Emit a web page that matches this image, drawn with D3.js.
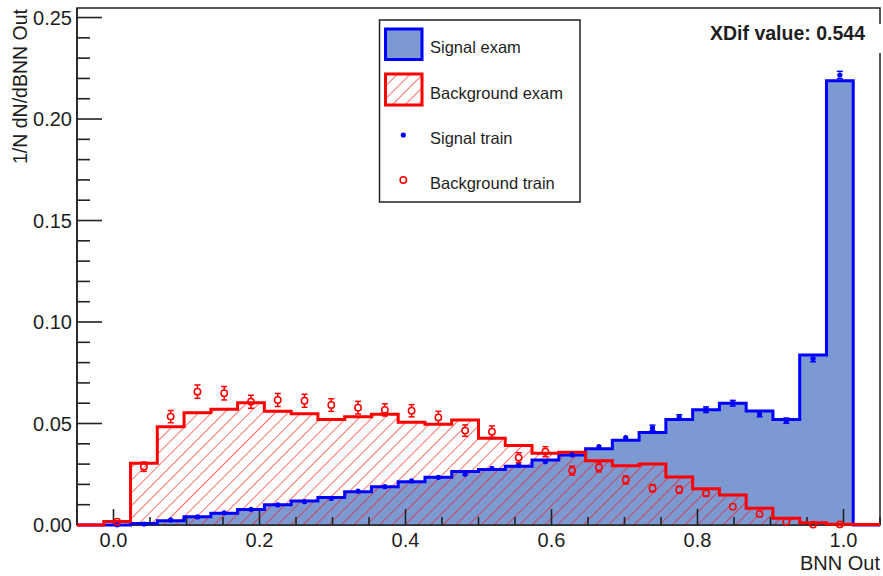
<!DOCTYPE html>
<html>
<head>
<meta charset="utf-8">
<script src="https://cdn.jsdelivr.net/npm/d3@7"></script>
<style>
  body { margin: 0; background: #fff; }
  svg { display: block; font-family: "Liberation Sans", Arial, sans-serif; }
</style>
</head>
<body>
<svg id="chart" width="883" height="576"></svg>
<script>
// histogram definition: 30 bins from -0.05 to 1.05
var binLow = -0.05;
var binHigh = 1.05;
var nBins = 30;

var yTickLabels = ["0.00", "0.05", "0.10", "0.15", "0.20", "0.25"];
var xTickLabels = ["0.0", "0.2", "0.4", "0.6", "0.8", "1.0"];

var signalExam = [0, 0, 0.0007, 0.0021, 0.0041, 0.0058, 0.0076, 0.0100, 0.0118, 0.0135,
    0.0164, 0.0189, 0.0213, 0.0235, 0.0263, 0.0274, 0.0290, 0.0320, 0.0345, 0.0376,
    0.0417, 0.0456, 0.0520, 0.0568, 0.0600, 0.0562, 0.0520, 0.0837, 0.2189, 0];

var backgroundExam = [0, 0.0017, 0.0304, 0.0484, 0.0553, 0.0570, 0.0602, 0.0560, 0.0548, 0.0520,
    0.0533, 0.0545, 0.0506, 0.0496, 0.0517, 0.0427, 0.0392, 0.0353, 0.0358, 0.0317,
    0.0292, 0.0300, 0.0236, 0.0178, 0.0148, 0.0082, 0.0033, 0.0011, 0.0004, 0.0003];

var signalTrain = [null, 0.0001, 0.0005, 0.0025, 0.0040, 0.0060, 0.0077, 0.0099, 0.0115, 0.0131,
    0.0167, 0.0189, 0.0217, 0.0235, 0.0250, 0.0279, 0.0296, 0.0312, 0.0345, 0.0386,
    0.0430, 0.0479, 0.0530, 0.0568, 0.0600, 0.0547, 0.0514, 0.0820, 0.2217, null];
var signalTrainErr = [0, 0.0002, 0.0003, 0.0004, 0.0005, 0.0006, 0.0006, 0.0007, 0.0007, 0.0008,
    0.0008, 0.0009, 0.0009, 0.0010, 0.0010, 0.0010, 0.0011, 0.0011, 0.0011, 0.0012,
    0.0012, 0.0013, 0.0013, 0.0014, 0.0014, 0.0014, 0.0013, 0.0016, 0.0018, 0];

var backgroundTrain = [null, 0.0016, 0.0287, 0.0534, 0.0657, 0.0649, 0.0607, 0.0616, 0.0612, 0.0591,
    0.0578, 0.0567, 0.0563, 0.0530, 0.0465, 0.0460, 0.0332, 0.0361, 0.0268, 0.0284,
    0.0222, 0.0181, 0.0174, 0.0157, 0.0090, 0.0054, 0.0016, 0.0002, 0.0003, null];
var backgroundTrainErr = [0, 0.0008, 0.0023, 0.0030, 0.0033, 0.0033, 0.0032, 0.0032, 0.0032, 0.0031,
    0.0031, 0.0030, 0.0030, 0.0030, 0.0028, 0.0028, 0.0024, 0.0025, 0.0022, 0.0022,
    0.0020, 0.0018, 0.0017, 0.0016, 0.0012, 0.0010, 0.0006, 0.0003, 0.0003, 0];

var legendLabels = ["Signal exam", "Background exam", "Signal train", "Background train"];
var xdifText = "XDif value: 0.544";

var padL = 77, padR = 880, padT = 8, padB = 525;
var textColor = "#1e1e1e";
var fillBlue = "#7d99d1";

var svg = d3.select("#chart");

var x = d3.scaleLinear().domain([binLow, binHigh]).range([padL, padR]);
var y = d3.scaleLinear().domain([0, 0.2547]).range([padB, padT]);

var binWidth = (binHigh - binLow) / nBins;
function edge(i) { return binLow + i * binWidth; }
function center(i) { return binLow + (i + 0.5) * binWidth; }

// hatch pattern for background
var defs = svg.append("defs");
defs.append("pattern")
    .attr("id", "hatch")
    .attr("patternUnits", "userSpaceOnUse")
    .attr("width", 9).attr("height", 9)
    .attr("patternTransform", "rotate(45)")
    .append("line")
    .attr("x1", 0).attr("y1", 0).attr("x2", 0).attr("y2", 9)
    .attr("stroke", "#ff1010").attr("stroke-width", 1.2);

function stepPoints(vals) {
    var pts = vals.map(function (v, i) { return [edge(i), v]; });
    pts.push([edge(nBins), vals[nBins - 1]]);
    return pts;
}

var area = d3.area()
    .curve(d3.curveStepAfter)
    .x(function (d) { return x(d[0]); })
    .y0(y(0))
    .y1(function (d) { return y(d[1]); });

var line = d3.line()
    .curve(d3.curveStepAfter)
    .x(function (d) { return x(d[0]); })
    .y(function (d) { return y(d[1]); });

// frame
svg.append("rect")
    .attr("x", padL).attr("y", padT)
    .attr("width", padR - padL).attr("height", padB - padT)
    .attr("fill", "none").attr("stroke", "#222").attr("stroke-width", 1.5);

// fills
svg.append("path").attr("d", area(stepPoints(signalExam))).attr("fill", fillBlue);
svg.append("path").attr("d", area(stepPoints(backgroundExam))).attr("fill", "url(#hatch)");

// axes
var axisG = svg.append("g").attr("stroke", "#222").attr("stroke-width", 1.6);
axisG.append("line").attr("x1", padL).attr("x2", padL).attr("y1", padT).attr("y2", padB);
axisG.append("line").attr("x1", padL).attr("x2", padR).attr("y1", padB).attr("y2", padB);

var yMinor = d3.range(0, 26).map(function (k) { return k / 100; });
axisG.selectAll(".ytick")
    .data(yMinor)
    .enter().append("line")
    .attr("x1", padL)
    .attr("x2", function (d, i) { return padL + (i % 5 === 0 ? 25 : 13); })
    .attr("y1", function (d) { return y(d); })
    .attr("y2", function (d) { return y(d); });

var xMinor = d3.range(-1, 22).map(function (k) { return k * 0.05; });
axisG.selectAll(".xtick")
    .data(xMinor)
    .enter().append("line")
    .attr("x1", function (d) { return x(d); })
    .attr("x2", function (d) { return x(d); })
    .attr("y1", padB)
    .attr("y2", function (d, i) { return padB - ((i - 1) % 4 === 0 ? 16 : 8); });

svg.selectAll(".ylab")
    .data(yTickLabels)
    .enter().append("text")
    .attr("x", padL - 5)
    .attr("y", function (d) { return y(+d); })
    .attr("dy", "0.36em")
    .attr("text-anchor", "end")
    .attr("font-size", 20)
    .attr("fill", textColor)
    .text(function (d) { return d; });

svg.selectAll(".xlab")
    .data(xTickLabels)
    .enter().append("text")
    .attr("x", function (d) { return x(+d); })
    .attr("y", 547)
    .attr("text-anchor", "middle")
    .attr("font-size", 20)
    .attr("fill", textColor)
    .text(function (d) { return d; });

svg.append("text")
    .attr("x", padR).attr("y", 570)
    .attr("text-anchor", "end")
    .attr("font-size", 20)
    .attr("fill", textColor)
    .text("BNN Out");

svg.append("text")
    .attr("transform", "translate(27,9) rotate(-90)")
    .attr("text-anchor", "end")
    .attr("font-size", 19.5)
    .attr("fill", textColor)
    .text("1/N dN/dBNN Out");

// outlines
svg.append("path").attr("d", line(stepPoints(signalExam)))
    .attr("fill", "none").attr("stroke", "#0000ff").attr("stroke-width", 3);
svg.append("path").attr("d", line(stepPoints(backgroundExam)))
    .attr("fill", "none").attr("stroke", "#ff0000").attr("stroke-width", 3);

// error bars + markers
function drawPoints(vals, errs, color, open, r) {
    var g = svg.append("g");
    vals.forEach(function (v, i) {
        if (v === null) return;
        var cx = x(center(i)), cy = y(v);
        var hi = y(v + errs[i]), lo = y(v - errs[i]);
        if (cy - hi > r) {
            g.append("line").attr("x1", cx).attr("x2", cx).attr("y1", hi).attr("y2", cy - r)
                .attr("stroke", color).attr("stroke-width", 1.5);
            g.append("line").attr("x1", cx).attr("x2", cx).attr("y1", lo).attr("y2", cy + r)
                .attr("stroke", color).attr("stroke-width", 1.5);
            g.append("line").attr("x1", cx - 3).attr("x2", cx + 3).attr("y1", hi).attr("y2", hi)
                .attr("stroke", color).attr("stroke-width", 1.5);
            g.append("line").attr("x1", cx - 3).attr("x2", cx + 3).attr("y1", lo).attr("y2", lo)
                .attr("stroke", color).attr("stroke-width", 1.5);
        }
        g.append("circle").attr("cx", cx).attr("cy", cy).attr("r", r)
            .attr("fill", open ? "none" : color)
            .attr("stroke", color).attr("stroke-width", open ? 1.5 : 0);
    });
}
drawPoints(signalTrain, signalTrainErr, "#0000ff", false, 2.6);
drawPoints(backgroundTrain, backgroundTrainErr, "#ff0000", true, 3.2);

// legend
var lg = svg.append("g");
lg.append("rect").attr("x", 379.5).attr("y", 20).attr("width", 200.5).attr("height", 182)
    .attr("fill", "#fff").attr("stroke", "#222").attr("stroke-width", 1.5);
lg.append("rect").attr("x", 385.5).attr("y", 29).attr("width", 36.5).attr("height", 30.5)
    .attr("fill", fillBlue).attr("stroke", "#0000ff").attr("stroke-width", 3);
lg.append("rect").attr("x", 385.5).attr("y", 74).attr("width", 36.5).attr("height", 31)
    .attr("fill", "url(#hatch)").attr("stroke", "#ff0000").attr("stroke-width", 3);
lg.append("circle").attr("cx", 403.3).attr("cy", 135).attr("r", 2.6).attr("fill", "#0000ff");
lg.append("circle").attr("cx", 403.3).attr("cy", 180).attr("r", 3.2)
    .attr("fill", "none").attr("stroke", "#ff0000").attr("stroke-width", 1.5);
lg.selectAll(".ltext")
    .data(legendLabels)
    .enter().append("text")
    .attr("x", 430)
    .attr("y", function (d, i) { return 47.5 + i * 45.3; })
    .attr("dy", "0.36em")
    .attr("font-size", 16.5)
    .attr("fill", textColor)
    .text(function (d) { return d; });

// XDif label
svg.append("rect").attr("x", 690).attr("y", 24).attr("width", 193).attr("height", 29).attr("fill", "#fff");
svg.append("text")
    .attr("x", 865).attr("y", 39.5)
    .attr("text-anchor", "end")
    .attr("font-size", 19.5)
    .attr("font-weight", "bold")
    .attr("fill", textColor)
    .text(xdifText);
</script>
</body>
</html>
